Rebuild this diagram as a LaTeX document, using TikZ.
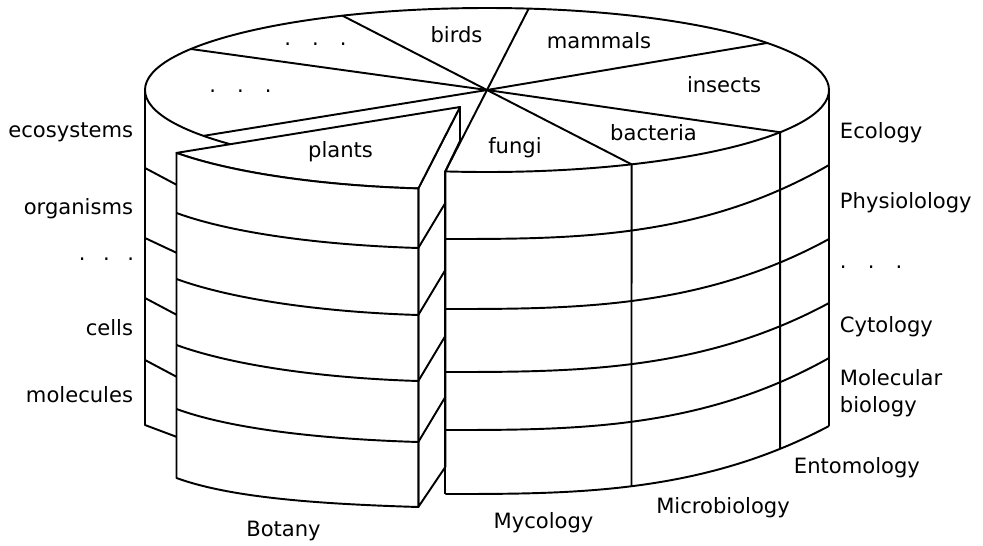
\documentclass[tikz,border=0pt]{standalone}
\usepackage{fontspec}
\setmainfont{DejaVu Sans}
\usetikzlibrary{calc}

\begin{document}
\begin{tikzpicture}[x=0.02cm,y=-0.02cm,
  line width=1.1pt, line join=round,
  lbl/.style={font=\fontsize{12}{15.4}\selectfont,inner sep=0pt},
  face/.style={draw=black,fill=white}
]
\useasboundingbox (0,0) rectangle (983,545);
\coordinate (c) at (487,90);
% main cylinder
\draw (c) ellipse [x radius=342, y radius=82];
\draw (145,90) -- (145,425) -- (177,437);
\foreach \ya/\yb in {168/185,238/253,298/315,360/377}
  \draw (145,\ya) -- (177,\yb);
\draw (829,90) -- (829,426);
% plants wedge, pulled out
\coordinate (apex) at (460,107);
\draw[face] (418.3,188.4) -- (apex) -- (460,141) -- (445.3,171.4) -- (445.3,467) -- (418.3,507) -- cycle;
\draw[face] (176.5,152.9) arc[start angle=146,end angle=97,x radius=342,y radius=82]
  -- (apex) -- cycle;
\draw[face] (176.5,152.9) arc[start angle=146,end angle=97,x radius=342,y radius=82]
  -- (418.3,507) .. controls +(-98,-3) and +(55,20) .. (176.5,478) -- cycle;
\foreach \yl/\yr in {213/248,279/315,345/381,409/442}
  \draw (176.5,\yl) .. controls +(55,20) and +(-98,-3) .. (418.3,\yr);
\foreach \y in {248,315,381,442}
  \draw (418.3,\y) -- (445.3,{\y-45});
% sectors
\foreach \a in {-150,-115,-83,-35,31,65,97,146}
  \draw (c) -- ++(\a:342 and 82);
% fungi, bacteria, insects
\draw (445.3,171.4) -- (445.3,494);
\draw ($(c)+(65:342 and 82)$) -- (631.5,486.2);
\draw ($(c)+(31:342 and 82)$) -- (780.2,448.8);
\foreach \yl/\yr in {239/165,309/239,372/303,430/358,494/426}
  \draw (445.3,\yl) .. controls +(128,0) and +(-128,{\yl-\yr}) .. (829,\yr);
% sector labels
\node[lbl,anchor=base] (dotsback) at (315.5,45) {.\hspace{12pt}.\hspace{12pt}.};
\node[lbl,anchor=base] (birds) at (456.5,42) {birds};
\node[lbl,anchor=base] (mammals) at (599,48) {mammals};
\node[lbl,anchor=base] (insects) at (724,92) {insects};
\node[lbl,anchor=base] (dotsleft) at (240.5,92) {.\hspace{12pt}.\hspace{12pt}.};
\node[lbl,anchor=base] (bacteria) at (653.5,140) {bacteria};
\node[lbl,anchor=base] (fungi) at (515,153) {fungi};
\node[lbl,anchor=base] (plants) at (340.5,157) {plants};
% levels
\node[lbl,anchor=base east] (ecosystems) at (134,137) {ecosystems};
\node[lbl,anchor=base east] (organisms) at (134,214) {organisms};
\node[lbl,anchor=base east] (leveldots) at (135,260) {.\hspace{10pt}.\hspace{10pt}.};
\node[lbl,anchor=base east] (cells) at (134,335) {cells};
\node[lbl,anchor=base east] (molecules) at (134,402) {molecules};
% fields
\node[lbl,anchor=base west] (ecology) at (839,138) {Ecology};
\node[lbl,anchor=base west] (physio) at (839,208) {Physiolology};
\node[lbl,anchor=base west] (fielddots) at (839,268) {.\hspace{12pt}.\hspace{12pt}.};
\node[lbl,anchor=base west] (cytology) at (839,332) {Cytology};
\node[lbl,anchor=west,align=left] (molbio) at (839,393) {Molecular\\biology};
\node[lbl,anchor=base west] (entomology) at (793,473) {Entomology};
\node[lbl,anchor=base] (microbio) at (723,513) {Microbiology};
\node[lbl,anchor=base] (mycology) at (543.5,528) {Mycology};
\node[lbl,anchor=base] (botany) at (283.5,536) {Botany};
\end{tikzpicture}
\end{document}
